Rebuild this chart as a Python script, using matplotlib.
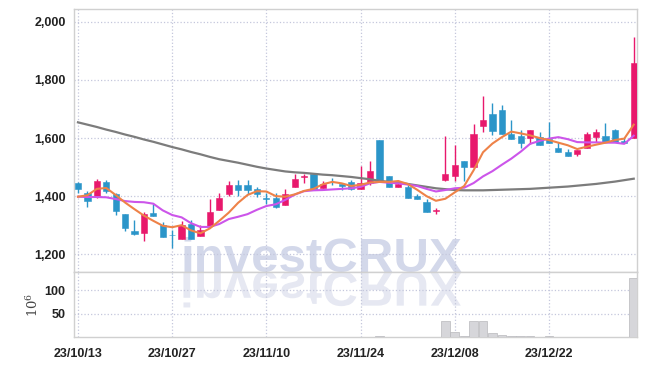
import numpy as np
import matplotlib
matplotlib.use("Agg")
import matplotlib.pyplot as plt
from matplotlib.textpath import TextPath
from matplotlib.patches import PathPatch
from matplotlib.font_manager import FontProperties
from matplotlib.transforms import Affine2D, ScaledTranslation

# daily candles, 23/10/13 .. 24/01 (trading days only)
opens = [1444, 1410, 1397, 1447, 1407, 1340, 1279, 1272, 1341, 1302,
         1267, 1252, 1305, 1262, 1297, 1353, 1407, 1440, 1438, 1424,
         1393, 1392, 1370, 1432, 1465, 1477, 1427, 1450, 1443, 1448,
         1423, 1445, 1592, 1468, 1430, 1430, 1399, 1379, 1348, 1457,
         1471, 1521, 1500, 1640, 1684, 1696, 1615, 1606, 1601, 1604,
         1598, 1566, 1553, 1544, 1566, 1604, 1606, 1627, 1590, 1601]
highs = [1449, 1417, 1458, 1457, 1410, 1340, 1319, 1345, 1374, 1310,
         1284, 1313, 1319, 1299, 1389, 1410, 1451, 1457, 1457, 1433,
         1410, 1410, 1425, 1477, 1477, 1477, 1451, 1461, 1443, 1454,
         1502, 1520, 1592, 1468, 1457, 1437, 1408, 1391, 1360, 1606,
         1575, 1521, 1647, 1745, 1719, 1715, 1661, 1627, 1627, 1621,
         1655, 1586, 1561, 1560, 1621, 1630, 1650, 1632, 1601, 1948]
lows = [1412, 1362, 1395, 1410, 1336, 1281, 1266, 1245, 1331, 1259,
        1222, 1252, 1252, 1262, 1297, 1353, 1399, 1402, 1407, 1397,
        1374, 1359, 1370, 1432, 1445, 1422, 1427, 1440, 1422, 1420,
        1423, 1439, 1457, 1430, 1430, 1393, 1389, 1345, 1339, 1451,
        1452, 1452, 1500, 1619, 1609, 1615, 1596, 1567, 1581, 1576,
        1583, 1552, 1538, 1538, 1566, 1586, 1586, 1586, 1583, 1601]
closes = [1423, 1383, 1451, 1417, 1348, 1289, 1269, 1340, 1331, 1261,
          1265, 1301, 1252, 1282, 1347, 1395, 1440, 1420, 1420, 1408,
          1390, 1362, 1408, 1460, 1470, 1426, 1443, 1447, 1434, 1426,
          1445, 1485, 1457, 1430, 1443, 1393, 1389, 1345, 1352, 1475,
          1506, 1500, 1613, 1661, 1624, 1615, 1596, 1584, 1627, 1576,
          1583, 1552, 1538, 1560, 1615, 1620, 1586, 1586, 1583, 1857]

# moving averages as shown on the chart
ma5 = [1398, 1403, 1425, 1428, 1404, 1378, 1355, 1333, 1315, 1298,
       1293, 1300, 1282, 1272, 1289, 1315, 1343, 1377, 1404, 1417,
       1416, 1400, 1398, 1406, 1418, 1425, 1441, 1449, 1444, 1435,
       1439, 1447, 1449, 1449, 1452, 1442, 1422, 1400, 1384, 1391,
       1413, 1435, 1489, 1551, 1581, 1603, 1622, 1616, 1609, 1600,
       1593, 1584, 1575, 1562, 1570, 1577, 1584, 1593, 1598, 1646]
ma10 = [1398, 1397, 1397, 1396, 1390, 1383, 1380, 1379, 1374, 1351,
        1335, 1327, 1307, 1294, 1294, 1304, 1321, 1329, 1338, 1353,
        1366, 1372, 1387, 1405, 1417, 1420, 1421, 1423, 1425, 1427,
        1432, 1444, 1449, 1446, 1444, 1440, 1435, 1425, 1416, 1421,
        1427, 1429, 1445, 1468, 1486, 1508, 1529, 1553, 1580, 1590,
        1598, 1603, 1596, 1586, 1585, 1585, 1584, 1584, 1580, 1608]
ma_long = [1654, 1646, 1638, 1629, 1621, 1612, 1604, 1595, 1587, 1578,
           1569, 1561, 1552, 1544, 1535, 1527, 1521, 1515, 1508, 1501,
           1495, 1490, 1485, 1482, 1480, 1477, 1474, 1472, 1469, 1466,
           1462, 1458, 1453, 1449, 1446, 1442, 1437, 1432, 1427, 1424,
           1421, 1420, 1420, 1420, 1421, 1422, 1423, 1424, 1425, 1427,
           1429, 1431, 1433, 1436, 1439, 1442, 1446, 1450, 1455, 1460]

# volume in millions
volume = [0.4, 0.3, 0.4, 0.3, 0.5, 1.2, 0.4, 0.3, 0.3, 0.4,
          0.5, 0.3, 0.3, 0.4, 1.0, 1.1, 1.0, 0.4, 0.3, 0.3,
          0.3, 0.3, 0.4, 1.2, 0.4, 0.3, 0.3, 0.2, 0.3, 0.3,
          0.4, 1.0, 3.0, 0.5, 0.4, 0.3, 0.3, 0.4, 0.3, 33.5,
          12.0, 3.5, 35.5, 33.5, 8.5, 5.5, 2.0, 3.0, 2.0, 1.5,
          3.0, 1.5, 1.0, 1.0, 1.5, 1.5, 1.5, 1.5, 1.5, 125.0]

tick_pos = [0, 10, 20, 30, 40, 50]
tick_labels = ["23/10/13", "23/10/27", "23/11/10", "23/11/24", "23/12/08", "23/12/22"]

RED = "#e8186c"
BLUE = "#2b95c9"
GRID = "#c4c7dc"
FRAME = "#d0d0d0"

plt.rcParams["font.family"] = ["Liberation Sans", "DejaVu Sans"]
plt.rcParams["mathtext.fontset"] = "dejavuserif"

o = np.array(opens, dtype=float)
h = np.array(highs, dtype=float)
l = np.array(lows, dtype=float)
c = np.array(closes, dtype=float)
x = np.arange(len(c))
cols = np.where(c >= o, RED, BLUE)

fig = plt.figure(figsize=(6.47, 3.66), dpi=100)
ax = fig.add_axes([0.1144, 0.2577, 0.8702, 0.7169])
axv = fig.add_axes([0.1144, 0.0784, 0.8702, 0.1792], sharex=ax)

# candles
ax.vlines(x, l, h, colors=cols, lw=1, zorder=3)
body = np.maximum(np.abs(c - o), 2.5)
ax.bar(x, body, bottom=np.minimum(o, c), width=0.66, color=cols,
       edgecolor=cols, lw=0.4, zorder=3)

ax.plot(x, ma_long, color="#7c7c7c", lw=1.6, zorder=4)
ax.plot(x, ma10, color="#cc55ea", lw=1.5, zorder=4)
ax.plot(x, ma5, color="#ee8248", lw=1.5, zorder=4)

# volume
axv.bar(x, volume, width=0.92, color="#d6d6da", edgecolor="#b8b8bc", lw=0.5, zorder=3)

ax.set_xlim(-0.42, 59.35)
ax.set_ylim(1140, 2043)
ax.set_yticks([1200, 1400, 1600, 1800, 2000])
ax.yaxis.set_major_formatter(plt.matplotlib.ticker.StrMethodFormatter("{x:,.0f}"))
axv.set_ylim(0, 139)
axv.set_yticks([50, 100])
axv.set_xticks(tick_pos)
axv.set_xticklabels(tick_labels)
axv.set_ylabel(r"$10^6$", fontsize=9.5, color="#444444", labelpad=3)

for a in (ax, axv):
    a.grid(True, ls=":", color=GRID, lw=0.9)
    a.set_axisbelow(True)
    a.tick_params(length=0, labelsize=9, colors="#222222", pad=6)
    for s in a.spines.values():
        s.set_color(FRAME)
        s.set_linewidth(1)
    for lbl in a.get_xticklabels() + a.get_yticklabels():
        lbl.set_fontweight("bold")
ax.tick_params(labelbottom=False)
axv.tick_params(axis="x", pad=8)

# watermark and its reflection
wm_font = FontProperties(family="Liberation Sans", weight="bold", size=35.5)
ax.text(0.1883, 0.0, "investCRUX", transform=ax.transAxes, fontproperties=wm_font,
        color="#d3d8ea", ha="left", va="baseline", zorder=0.5)
tp = TextPath((0, 0), "investCRUX", prop=wm_font)
k = fig.dpi / 72.0
tr = Affine2D().scale(k, -k) + ScaledTranslation(0.1883, 1.0, axv.transAxes)
axv.add_artist(PathPatch(tp, transform=tr, facecolor="#e6e8f2", edgecolor="none", zorder=0.5))

fig.savefig("out.png", dpi=100)
